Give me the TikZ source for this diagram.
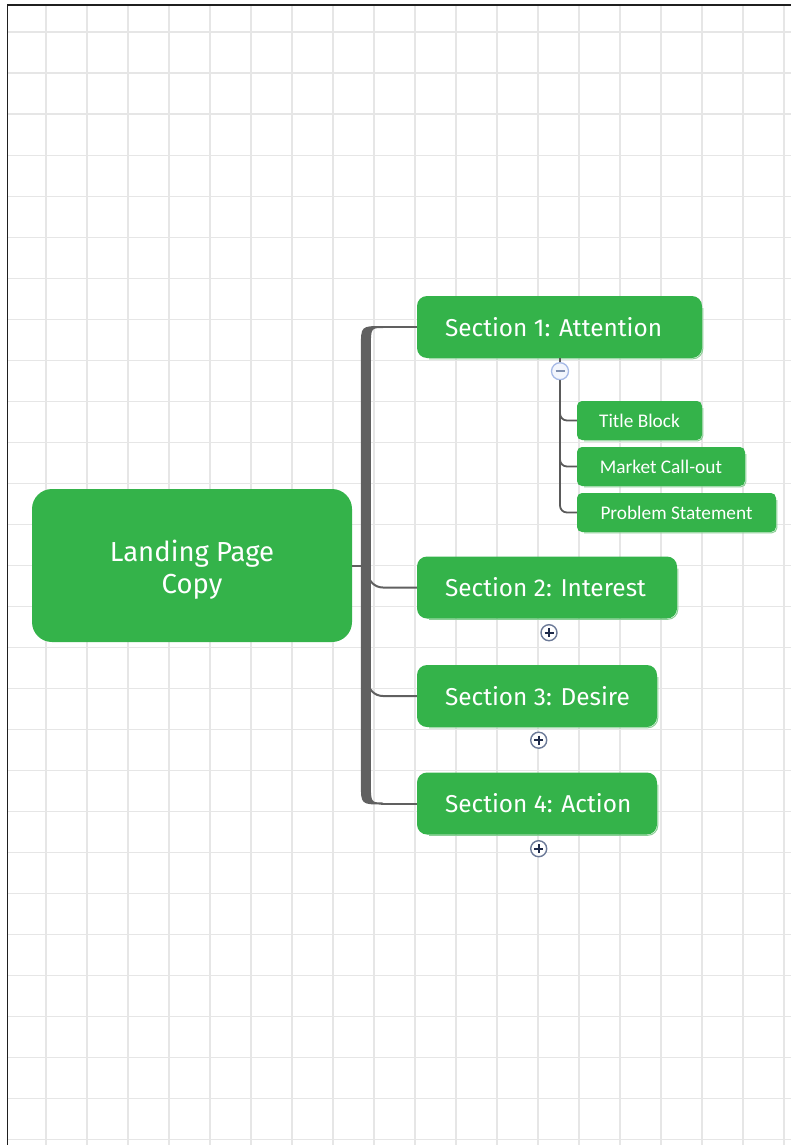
\documentclass[tikz,border=0pt]{standalone}
\usepackage{fontspec}
\setmainfont{Fira Sans}
\newfontfamily\subfont{Carlito}
\usetikzlibrary{calc}
\definecolor{boxgreen}{HTML}{34B34A}
\definecolor{boxedge}{HTML}{8ACF95}
\definecolor{gridgray}{HTML}{E6E6E6}
\definecolor{trunkgray}{HTML}{606060}
\definecolor{linegray}{HTML}{5A5A5A}
\definecolor{minusring}{HTML}{A6B9E6}
\definecolor{minusfill}{HTML}{F3F6FD}
\definecolor{minussign}{HTML}{8090B0}
\definecolor{plusring}{HTML}{6C7A98}
\definecolor{plussign}{HTML}{1E2A4A}
\tikzset{
  gridline/.style={draw=gridgray, line width=1.6pt},
  rootbox/.style={fill=boxgreen, rounded corners=20pt, minimum width=320pt, minimum height=153pt,
    text=white, align=center, inner sep=0pt, font=\fontsize{27.5}{32}\selectfont},
  secbox/.style={fill=boxgreen, rounded corners=10pt, minimum height=62pt, text=white,
    inner xsep=28pt, inner ysep=0pt, align=flush left, font=\fontsize{24.4}{28}\selectfont},
  subbox/.style={fill=boxgreen, rounded corners=5pt, minimum height=39pt, text=white,
    inner sep=0pt, font=\subfont\fontsize{19.3}{23}\selectfont},
  edgeshadow/.style={draw=boxedge, line width=1pt},
  branch/.style={draw=trunkgray, line width=2pt},
  subline/.style={draw=linegray, line width=1.8pt},
  minusicon/.style={circle, draw=minusring, fill=minusfill, line width=1.3pt, minimum size=17pt, inner sep=0pt},
  plusicon/.style={circle, draw=plusring, fill=white, line width=1.4pt, minimum size=16pt, inner sep=0pt},
  minussignline/.style={draw=minussign, line width=1.8pt},
  plussignline/.style={draw=plussign, line width=2pt},
}
\begin{document}
\begin{tikzpicture}[x=1pt,y=-1pt]
\useasboundingbox (0,0) rectangle (791,1145);
\fill[white] (0,0) rectangle (791,1145);
% grid
\foreach \i in {0,...,18} \draw[gridline] ({46+41*\i},5) -- ({46+41*\i},1145);
\foreach \j in {0,...,27} \draw[gridline] (8,{32.3+41*\j}) -- (791,{32.3+41*\j});
% frame
\draw[line width=1.6pt, black!88] (7.5,1145) -- (7.5,4.8) -- (791,4.8);

% subtle lower-right edge of the boxes (drawn first, boxes on top)
\foreach \cx/\cy/\w/\h/\r in {559.5/327/285/62/10, 547/587.5/260/62/10, 537/696/240/62/10, 537/803.5/240/62/10,
    639.5/420.5/125/39/5, 661/466.5/168/39/5, 676.5/512.5/199/39/5} {
  \draw[edgeshadow, rounded corners=\r pt] ({\cx+\w/2+0.8},{\cy-\h/2+\r+2}) -- ({\cx+\w/2+0.8},{\cy+\h/2+0.8}) -- ({\cx-\w/2+\r+2},{\cy+\h/2+0.8});
}

% nodes
\node[rootbox] (root) at (192,565.5) {\raisebox{-4pt}[\height][\depth]{\parbox{300pt}{\centering Landing Page\\Copy}}};
\node[secbox, text width=229pt] (s1) at (559.5,327) {\mbox{Section 1: Attention}};
\node[secbox, text width=204pt] (s2) at (547,587.5) {\mbox{Section 2: Interest}};
\node[secbox, text width=184pt] (s3) at (537,696) {\mbox{Section 3: Desire}};
\node[secbox, text width=184pt] (s4) at (537,803.5) {\mbox{Section 4: Action}};
\node[subbox, minimum width=125pt] (tb) at (639.5,420.5) {Title Block};
\node[subbox, minimum width=168pt] (mc) at (661,466.5) {Market Call-out};
\node[subbox, minimum width=199pt] (ps) at (676.5,512.5) {Problem Statement};

% trunk
\coordinate (tx) at ($(root.east)+(13.7,0)$);
\coordinate (T1) at (s1.west -| tx);
\coordinate (T2) at (s2.west -| tx);
\coordinate (T3) at (s3.west -| tx);
\coordinate (T4) at (s4.west -| tx);
\fill[trunkgray] ($(T1)+(17.3,-1)$) .. controls ($(T1)+(-5,-1)$) .. ($(T1)+(-5,20)$)
  -- ($(T4)+(-5,-20)$) .. controls ($(T4)+(-5,1)$) .. ($(T4)+(17.3,1)$)
  -- ($(T4)+(17.3,-1)$) .. controls ($(T4)+(5,-1)$) .. ($(T4)+(5,-20)$)
  -- ($(T1)+(5,20)$) .. controls ($(T1)+(5,1)$) .. ($(T1)+(17.3,1)$) -- cycle;
\draw[branch] ($(T1)+(15,0)$) -- (s1.west);
\draw[branch] ($(T4)+(15,0)$) -- (s4.west);
\draw[branch, rounded corners=15pt] ($(T2)+(2,-30)$) |- (s2.west);
\draw[branch, rounded corners=15pt] ($(T3)+(2,-30)$) |- (s3.west);
\draw[branch] (root.east) -- ($(tx)+(-4,0)$);

% sub-branches
\node[minusicon] (mi) at ($(s1.south)+(0.5,13)$) {};
\draw[subline] (s1.south -| mi) -- (mi.north);
\draw[subline, rounded corners=7pt] (mi.south) |- (tb.west);
\draw[subline, rounded corners=7pt] (mi.south) |- (mc.west);
\draw[subline, rounded corners=7pt] (mi.south) |- (ps.west);
\draw[minussignline] ($(mi)+(-4.5,0)$) -- ($(mi)+(4.5,0)$);

% collapsed icons
\node[plusicon] (p2) at ($(s2.south)+(2,14)$) {};
\node[plusicon] (p3) at ($(s3.south)+(1.7,13)$) {};
\node[plusicon] (p4) at ($(s4.south)+(1.7,14)$) {};
\foreach \p in {p2,p3,p4} {
  \draw[plussignline] ($(\p)+(-4.5,0)$) -- ($(\p)+(4.5,0)$);
  \draw[plussignline] ($(\p)+(0,-4.5)$) -- ($(\p)+(0,4.5)$);
}
\end{tikzpicture}
\end{document}
